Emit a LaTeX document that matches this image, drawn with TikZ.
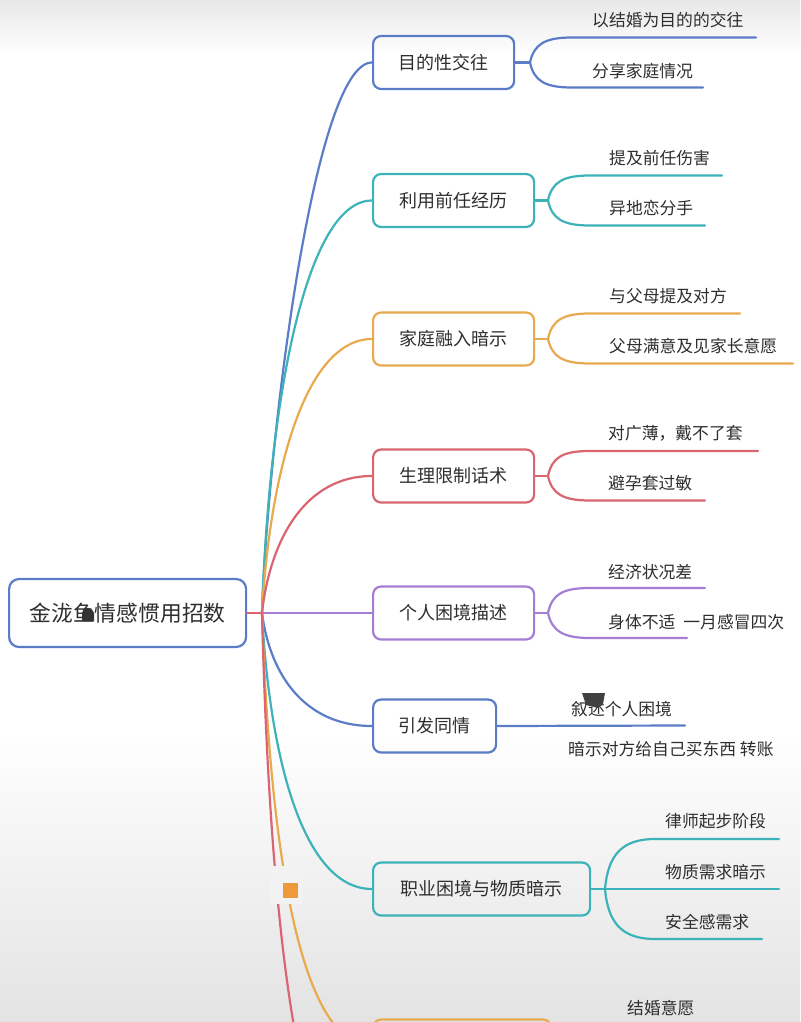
\documentclass[tikz,border=0pt]{standalone}
\usepackage{fontspec}
\newfontfamily\cjk{Noto Sans CJK SC}
\definecolor{cblue}{HTML}{5B7DC8}
\definecolor{cteal}{HTML}{3DB3B9}
\definecolor{corange}{HTML}{E8AA4E}
\definecolor{cred}{HTML}{DA6570}
\definecolor{cpurple}{HTML}{A57ED4}
\definecolor{ctext}{HTML}{2E2E2E}
\definecolor{csq}{HTML}{EE9A3A}
\begin{document}
\begin{tikzpicture}[x=1pt,y=-1pt,
  topic/.style={draw=#1, line width=2.2pt, rounded corners=8pt, minimum height=53pt,
    anchor=west, inner sep=0pt, font=\cjk\fontsize{18}{18}\selectfont, text=ctext},
  leaf/.style={anchor=west, inner sep=0pt, font=\cjk\fontsize{16.8}{17}\selectfont, text=ctext},
  edge/.style={draw=#1, line width=2.2pt, line cap=round},
]
\useasboundingbox (0,0) rectangle (800,1022);
\clip (0,0) rectangle (800,1022);
% background
\fill[white] (0,0) rectangle (800,1022);
\shade[top color=black!9, bottom color=white] (0,0) rectangle (800,55);
\shade[top color=white, bottom color=black!11] (0,730) rectangle (800,1022);

% root
\node[draw=cblue, line width=2.2pt, rounded corners=10pt, minimum width=237pt, minimum height=68pt,
  anchor=west, inner sep=0pt, font=\cjk\fontsize{21.8}{22}\selectfont, text=ctext] (root) at (8,613) {金泷鱼情感惯用招数};
\fill[black!80] (82,621) -- (82,613) .. controls (84,606) and (91,606) .. (94,613) -- (94,621) -- cycle;
\coordinate (J) at (262,613);

% topics
\node[topic=cblue, minimum width=141pt] (n1) at (372,62.5) {目的性交往};
\node[topic=cteal, minimum width=161pt] (n2) at (372,200.5) {利用前任经历};
\node[topic=corange, minimum width=161pt] (n3) at (372,339) {家庭融入暗示};
\node[topic=cred, minimum width=161pt] (n4) at (372,476) {生理限制话术};
\node[topic=cpurple, minimum width=161pt] (n5) at (372,613) {个人困境描述};
\node[topic=cblue, minimum width=123pt] (n6) at (372,726) {引发同情};
\node[topic=cteal, minimum width=217pt] (n7) at (372,889) {职业困境与物质暗示};
\node[topic=corange, minimum width=178pt] (n8) at (372,1046) {};
\coordinate (n9) at (372,1190);

% main edges
\draw[edge=cblue] (J) .. controls (268,440) and (314,62.5) .. (n1.west);
\draw[edge=cteal] (J) .. controls (269,400) and (306,200.5) .. (n2.west);
\draw[edge=corange] (J) .. controls (270,470) and (306,339) .. (n3.west);
\draw[edge=cred] (J) .. controls (270,540) and (305,476) .. (n4.west);
\draw[edge=cpurple] (J) -- (n5.west);
\draw[edge=cblue] (J) .. controls (270,675) and (305,726) .. (n6.west);
\draw[edge=cteal] (J) .. controls (270,764) and (305,889) .. (n7.west);
\draw[edge=corange] (J) .. controls (270,851) and (300,1046) .. (n8.west);
\draw[edge=cred] (J) .. controls (270,930) and (300,1190) .. (n9);
\draw[edge=cred] (root.east) -- (J);

% collapse marker
\fill[black!5] (270,866) rectangle (303,904);
\fill[csq] (283,883) rectangle (298,898);

% leaves of n1
\coordinate (f1) at (530,62.5);
\draw[edge=cblue] (n1.east) -- (f1);
\draw[edge=cblue] (f1) .. controls (534,44) and (545,37.5) .. (572,37.5) -- (756,37.5);
\draw[edge=cblue] (f1) .. controls (534,81) and (545,87.5) .. (572,87.5) -- (703,87.5);
\node[leaf] (l1a) at (592,20.5) {以结婚为目的的交往};
\node[leaf] (l1b) at (592,71) {分享家庭情况};

% leaves of n2
\coordinate (f2) at (548,200.5);
\draw[edge=cteal] (n2.east) -- (f2);
\draw[edge=cteal] (f2) .. controls (552,182) and (563,175.5) .. (590,175.5) -- (722,175.5);
\draw[edge=cteal] (f2) .. controls (552,219) and (563,225.5) .. (590,225.5) -- (705,225.5);
\node[leaf] (l2a) at (609,158.5) {提及前任伤害};
\node[leaf] (l2b) at (609,208.5) {异地恋分手};

% leaves of n3
\coordinate (f3) at (548,339);
\draw[edge=corange] (n3.east) -- (f3);
\draw[edge=corange] (f3) .. controls (552,320) and (563,313.5) .. (590,313.5) -- (740,313.5);
\draw[edge=corange] (f3) .. controls (552,357) and (563,363.5) .. (590,363.5) -- (793,363.5);
\node[leaf] (l3a) at (609,296.5) {与父母提及对方};
\node[leaf] (l3b) at (609,346) {父母满意及见家长意愿};

% leaves of n4
\coordinate (f4) at (548,476);
\draw[edge=cred] (n4.east) -- (f4);
\draw[edge=cred] (f4) .. controls (552,457) and (563,451) .. (590,451) -- (758,451);
\draw[edge=cred] (f4) .. controls (552,494) and (563,500.5) .. (590,500.5) -- (705,500.5);
\node[leaf] (l4a) at (608,433.5) {对广薄，戴不了套};
\node[leaf] (l4b) at (608,483.5) {避孕套过敏};

% leaves of n5
\coordinate (f5) at (548,613);
\draw[edge=cpurple] (n5.east) -- (f5);
\draw[edge=cpurple] (f5) .. controls (552,594) and (563,588) .. (590,588) -- (705,588);
\draw[edge=cpurple] (f5) .. controls (552,631) and (563,638) .. (590,638) -- (687,638);
\node[leaf] (l5a) at (608,572) {经济状况差};
\node[leaf] (l5b) at (608,622) {身体不适\hspace{8pt}一月感冒四次};

% leaves of n6
\coordinate (e6) at (685,725.5);
\draw[edge=cblue] (n6.east) -- (e6);
\node[leaf] (l6a) at (571,709.5) {叙述个人困境};
\node[leaf] (l6b) at (568,749.5) {暗示对方给自己买东西 转账};
\fill[black!75] (582,693) -- (605,693) -- (603,704) -- (598,708) -- (586,705) -- cycle;

% leaves of n7
\coordinate (f7) at (605,889);
\draw[edge=cteal] (n7.east) -- (f7);
\draw[edge=cteal] (f7) .. controls (608,855) and (622,839) .. (655,839) -- (779,839);
\draw[edge=cteal] (f7) -- (779,889);
\draw[edge=cteal] (f7) .. controls (608,923) and (622,939) .. (655,939) -- (762,939);
\node[leaf] (l7a) at (665,821.5) {律师起步阶段};
\node[leaf] (l7b) at (665,872) {物质需求暗示};
\node[leaf] (l7c) at (665,922) {安全感需求};

% leaf of n8
\node[leaf] (l8a) at (627,1008) {结婚意愿};
\end{tikzpicture}
\end{document}
